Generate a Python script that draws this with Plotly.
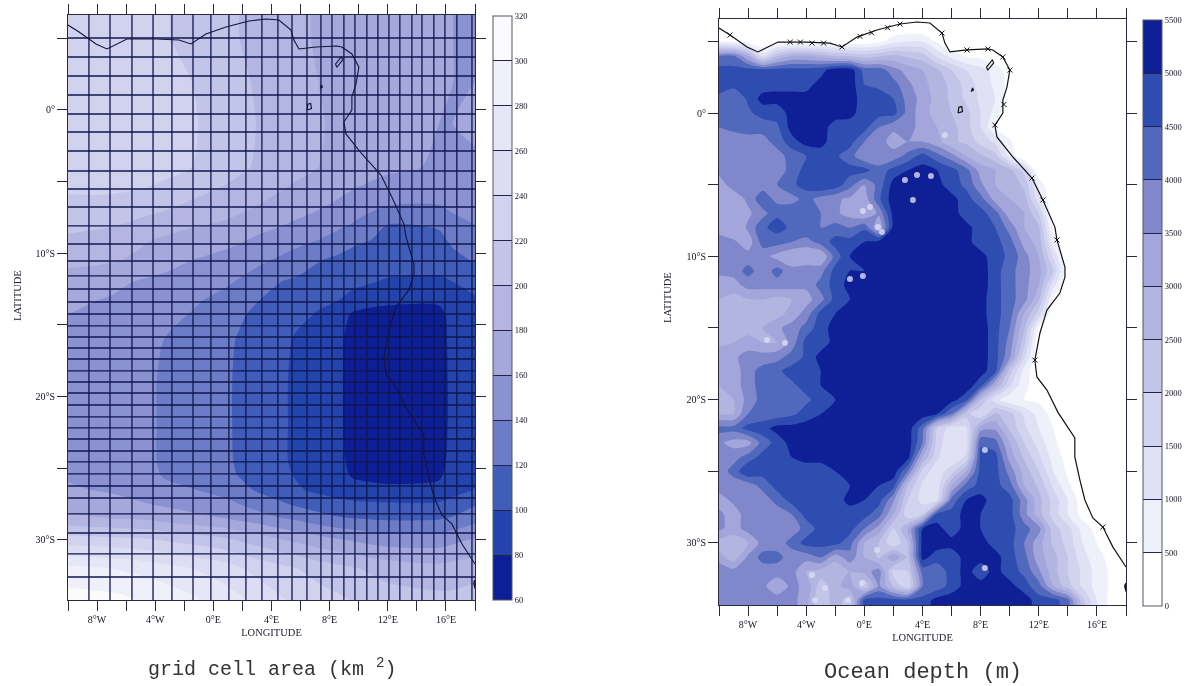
import plotly.graph_objects as go

# ---------- page geometry: pixels of the reference; the drawing surface runs a little past the
# 1192 px window so that the right colour bar's labels fit without the plot area being shrunk ----------
W, H = 1216, 686

# ---------- left panel: grid cell area (km2) ----------
area_lons = [-10, -7, -4.4, -3.4, -1.5, 0.8, 1.8, 3.3, 4.8, 5.8, 7.2, 8.6, 9.6, 12, 15.5, 16.5, 18]
area_lats = [8, 5, 2, -1, -4, -6.5, -7.5, -9, -10.5, -12, -13.3, -14.3, -16, -19, -22, -24.5, -25.5,
             -26.5, -27.5, -28.5, -30, -32, -34, -36]
area_values = [
    [224, 228, 226, 222, 214, 206, 200, 194, 188, 184, 178, 172, 170, 166, 162, 160, 160],
    [224, 228, 226, 222, 214, 206, 200, 194, 188, 184, 178, 172, 170, 166, 162, 160, 160],
    [226, 232, 232, 228, 220, 210, 204, 196, 190, 186, 180, 174, 172, 168, 162, 160, 160],
    [228, 234, 234, 230, 222, 212, 206, 198, 192, 188, 182, 176, 172, 166, 160, 160, 162],
    [226, 232, 232, 228, 220, 210, 204, 196, 190, 186, 180, 174, 170, 164, 158, 158, 158],
    [218, 216, 210, 206, 198, 190, 186, 180, 174, 170, 164, 158, 154, 144, 142, 148, 154],
    [212, 208, 198, 195, 188, 182, 178, 172, 166, 161, 156, 150, 145, 122, 124, 137, 145],
    [196, 190, 181, 178, 172, 166, 163, 156, 150, 146, 141, 133, 125, 116, 117, 123, 130],
    [186, 182, 174, 170, 160, 154, 150, 143, 136, 131, 121, 115, 112, 108, 110, 116, 121],
    [170, 165, 156, 153, 148, 143, 138, 128, 119, 116, 112, 107, 104, 98, 96, 100, 105],
    [164, 158, 150, 148, 143, 134, 130, 119, 110, 106, 102, 100, 94, 85, 83, 90, 98],
    [160, 155, 148, 145, 139, 128, 123, 113, 106, 103, 99, 92, 76, 70, 74, 87, 95],
    [158, 153, 146, 140, 133, 125, 118, 108, 103, 98, 91, 84, 74, 67, 72, 86, 93],
    [156, 152, 145, 135, 128, 124, 116, 106, 102, 96, 88, 83, 74, 66, 72, 85, 92],
    [156, 152, 145, 135, 128, 124, 116, 106, 102, 96, 88, 83, 74, 66, 72, 85, 92],
    [156, 152, 145, 135, 128, 124, 117, 107, 102, 96, 89, 84, 76, 70, 74, 86, 93],
    [158, 154, 147, 138, 130, 125, 119, 109, 104, 98, 92, 86, 78, 74, 77, 88, 95],
    [162, 158, 152, 147, 141, 132, 126, 116, 108, 102, 96, 91, 87, 84, 85, 92, 101],
    [172, 166, 160, 157, 152, 146, 140, 130, 122, 116, 110, 106, 104, 102, 102, 108, 118],
    [184, 180, 176, 172, 166, 160, 155, 148, 140, 136, 128, 122, 120, 117, 118, 122, 132],
    [230, 226, 222, 218, 212, 204, 198, 190, 180, 175, 168, 162, 158, 150, 150, 155, 162],
    [285, 280, 272, 268, 260, 250, 242, 232, 225, 220, 212, 206, 202, 192, 186, 188, 192],
    [308, 304, 296, 292, 282, 268, 262, 250, 240, 236, 228, 222, 218, 208, 204, 204, 208],
    [316, 312, 306, 302, 292, 278, 272, 260, 250, 246, 238, 232, 228, 218, 214, 214, 218],
]
area_levels = [60, 320, 20]
area_colors = ["#0d1f96", "#2344ac", "#3f5db9", "#6d7cc6", "#8b92d1", "#a4a8db", "#b4b6e1",
               "#c3c5e8", "#d1d2ee", "#dcdcf2", "#e5e6f6", "#eff0fa", "#fbfbfe"]
area_ticks = [60, 80, 100, 120, 140, 160, 180, 200, 220, 240, 260, 280, 300, 320]

# model grid lines of the left panel
grid_lons = [-8.56, -7.11, -5.6, -4.15, -2.85, -1.40, -0.17, 1.07, 2.24, 3.34, 4.44, 5.41, 6.44, 7.40,
             8.16, 8.98, 9.74, 10.56, 11.32, 12.08, 12.83, 13.66, 14.35, 15.17, 15.93, 16.75, 17.79]
grid_lats = [5.02, 3.70, 2.37, 1.05, -0.28, -1.54, -2.86, -4.26, -5.51, -6.77, -8.09, -9.35, -10.54,
             -11.58, -12.49, -13.40, -14.24, -15.07, -15.84, -16.61, -17.38, -18.21, -18.98, -19.75,
             -20.59, -21.42, -22.19, -22.96, -23.80, -24.56, -25.40, -26.24, -27.08, -28.19, -29.52,
             -30.98, -32.59]

# ---------- right panel: ocean depth, hundreds of metres ----------
depth_lons = list(range(-10, 19))
depth_lats = list(range(7, -36, -1))
depth_hundreds = [
    [0]*29,
    [0]*29,
    [5, 4, 2, 0, 0, 0, 0, 0, 0, 0, 1, 3, 8, 10, 10, 4, 0, 0, 0, 0, 0, 0, 0, 0, 0, 0, 0, 0, 0],
    [40, 40, 30, 12, 24, 30, 30, 28, 24, 24, 22, 24, 26, 24, 22, 14, 8, 4, 3, 0, 0, 0, 0, 0, 0, 0, 0, 0, 0],
    [47, 47, 47, 47, 47, 47, 47, 48, 53, 53, 43, 43, 37, 33, 30, 26, 20, 15, 12, 8, 2, 0, 0, 0, 0, 0, 0, 0, 0],
    [47, 47, 47, 47, 48, 48, 48, 52, 53, 53, 45, 44, 42, 36, 32, 27, 24, 18, 13, 9, 3, 0, 0, 0, 0, 0, 0, 0, 0],
    [44, 40, 46, 52, 52, 52, 52, 53, 53, 53, 47, 47, 45, 38, 33, 28, 24, 19, 14, 10, 1, 0, 0, 0, 0, 0, 0, 0, 0],
    [42, 40, 44, 47, 47, 52, 53, 53, 53, 52, 47, 47, 47, 38, 32, 28, 25, 22, 15, 8, 0, 0, 0, 0, 0, 0, 0, 0, 0],
    [40, 41, 42, 42, 44, 52, 53, 53, 47, 47, 47, 40, 36, 36, 34, 30, 27, 22, 15, 5, 0, 0, 0, 0, 0, 0, 0, 0, 0],
    [38, 38, 38, 38, 42, 48, 52, 52, 47, 47, 40, 37, 33, 35, 35, 32, 26, 24, 18, 14, 6, 0, 0, 0, 0, 0, 0, 0, 0],
    [36, 35, 35, 36, 38, 42, 45, 47, 46, 42, 36, 36, 37, 42, 47, 42, 37, 30, 26, 22, 8, 0, 0, 0, 0, 0, 0, 0, 0],
    [36, 37, 37, 37, 37, 42, 47, 47, 47, 47, 47, 42, 47, 50, 52, 50, 47, 42, 33, 30, 27, 18, 0, 0, 0, 0, 0, 0, 0],
    [33, 37, 37, 37, 40, 44, 47, 50, 48, 42, 35, 42, 52, 52, 52, 52, 47, 44, 36, 30, 28, 24, 8, 0, 0, 0, 0, 0, 0],
    [32, 32, 36, 44, 38, 38, 42, 38, 36, 34, 32, 44, 53, 53, 53, 53, 52, 47, 42, 33, 30, 27, 12, 0, 0, 0, 0, 0, 0],
    [32, 30, 34, 38, 44, 44, 42, 40, 36, 33, 30, 36, 52, 53, 53, 53, 53, 47, 47, 42, 32, 30, 20, 0, 0, 0, 0, 0, 0],
    [34, 30, 36, 44, 47, 44, 44, 40, 42, 40, 44, 30, 52, 53, 53, 53, 53, 52, 47, 45, 38, 30, 26, 3, 0, 0, 0, 0, 0],
    [36, 36, 32, 42, 42, 40, 38, 42, 47, 47, 50, 52, 53, 53, 53, 53, 53, 52, 47, 47, 42, 33, 28, 8, 0, 0, 0, 0, 0],
    [38, 38, 37, 37, 33, 30, 30, 30, 42, 50, 52, 52, 53, 53, 53, 53, 53, 53, 52, 47, 44, 37, 30, 14, 0, 0, 0, 0, 0],
    [36, 37, 42, 37, 42, 37, 38, 38, 47, 50, 50, 52, 53, 53, 53, 53, 53, 53, 53, 47, 42, 37, 32, 20, 0, 0, 0, 0, 0],
    [33, 33, 37, 37, 38, 37, 36, 42, 47, 52, 52, 53, 53, 53, 53, 53, 53, 53, 53, 47, 42, 37, 30, 12, 0, 0, 0, 0, 0],
    [30, 28, 30, 30, 28, 30, 33, 38, 47, 50, 52, 53, 53, 53, 53, 53, 53, 53, 52, 47, 42, 37, 26, 3, 0, 0, 0, 0, 0],
    [30, 28, 26, 28, 28, 32, 37, 47, 50, 53, 53, 53, 53, 53, 53, 53, 53, 53, 52, 47, 42, 30, 18, 0, 0, 0, 0, 0, 0],
    [30, 30, 28, 30, 34, 37, 42, 48, 52, 53, 53, 53, 53, 53, 53, 53, 53, 53, 53, 47, 40, 26, 4, 0, 0, 0, 0, 0, 0],
    [28, 30, 32, 30, 30, 37, 47, 47, 52, 53, 53, 53, 53, 53, 53, 53, 53, 53, 53, 47, 38, 22, 0, 0, 0, 0, 0, 0, 0],
    [34, 34, 37, 37, 38, 42, 46, 52, 52, 53, 53, 53, 53, 53, 53, 53, 53, 53, 53, 47, 36, 16, 0, 0, 0, 0, 0, 0, 0],
    [30, 32, 38, 42, 44, 47, 50, 50, 52, 52, 53, 53, 53, 53, 53, 53, 53, 53, 52, 47, 22, 8, 0, 0, 0, 0, 0, 0, 0],
    [30, 32, 38, 42, 42, 44, 47, 50, 52, 53, 52, 53, 53, 53, 53, 53, 53, 53, 47, 30, 16, 6, 3, 0, 0, 0, 0, 0, 0],
    [30, 30, 37, 42, 42, 42, 44, 47, 50, 53, 53, 53, 53, 53, 53, 53, 52, 47, 25, 12, 6, 5, 4, 0, 0, 0, 0, 0, 0],
    [30, 30, 40, 42, 42, 44, 47, 50, 53, 53, 53, 53, 53, 53, 53, 50, 40, 22, 15, 26, 22, 14, 8, 3, 0, 0, 0, 0, 0],
    [42, 42, 47, 48, 52, 52, 53, 53, 53, 53, 53, 53, 53, 53, 42, 20, 12, 14, 33, 34, 24, 16, 10, 5, 1, 0, 0, 0, 0],
    [36, 33, 33, 42, 47, 52, 52, 53, 53, 53, 53, 53, 53, 53, 40, 18, 10, 12, 44, 42, 30, 20, 13, 6, 2, 0, 0, 0, 0],
    [38, 38, 42, 47, 50, 50, 52, 52, 53, 53, 53, 53, 53, 52, 30, 16, 10, 16, 47, 47, 33, 24, 16, 8, 3, 0, 0, 0, 0],
    [37, 42, 50, 47, 47, 47, 47, 47, 50, 52, 53, 52, 53, 40, 18, 12, 18, 30, 47, 47, 38, 28, 20, 10, 4, 0, 0, 0, 0],
    [37, 37, 37, 42, 47, 47, 47, 47, 47, 50, 53, 50, 47, 25, 14, 12, 30, 42, 47, 47, 42, 30, 24, 14, 6, 1, 0, 0, 0],
    [33, 36, 37, 37, 42, 47, 47, 47, 47, 52, 50, 47, 36, 20, 13, 14, 42, 50, 52, 47, 47, 37, 27, 18, 10, 2, 0, 0, 0],
    [36, 33, 37, 37, 37, 40, 47, 47, 47, 47, 47, 42, 30, 16, 20, 47, 47, 52, 50, 47, 47, 37, 27, 18, 10, 3, 0, 0, 0],
    [36, 33, 37, 37, 37, 37, 42, 47, 47, 47, 40, 33, 20, 30, 50, 52, 47, 52, 50, 47, 47, 42, 37, 22, 17, 8, 3, 0, 0],
    [28, 26, 30, 37, 37, 42, 47, 47, 47, 42, 30, 25, 15, 25, 52, 53, 52, 53, 52, 48, 47, 40, 32, 24, 18, 10, 5, 2, 0],
    [32, 27, 36, 42, 42, 37, 37, 40, 32, 38, 30, 24, 35, 24, 52, 47, 47, 52, 52, 52, 47, 42, 32, 27, 20, 12, 7, 3, 0],
    [40, 37, 37, 37, 37, 37, 30, 28, 26, 30, 32, 38, 18, 20, 42, 42, 47, 52, 47, 52, 47, 44, 36, 27, 20, 14, 8, 4, 1],
    [37, 37, 37, 36, 32, 36, 34, 22, 28, 33, 20, 36, 24, 16, 40, 42, 47, 52, 52, 52, 52, 47, 42, 30, 22, 14, 8, 4, 2],
    [37, 37, 37, 37, 37, 37, 32, 20, 28, 22, 47, 47, 47, 47, 47, 52, 53, 53, 53, 53, 53, 53, 47, 47, 42, 22, 10, 3, 2],
    [37, 37, 37, 37, 37, 37, 32, 20, 28, 22, 47, 47, 47, 47, 47, 52, 53, 53, 53, 53, 53, 53, 47, 47, 42, 22, 10, 3, 2],
]
assert all(len(r) == 29 for r in depth_hundreds) and len(depth_hundreds) == 43
depth_levels = [0, 5500, 500]
depth_colors = ["#ffffff", "#eef0fa", "#e0e1f5", "#d2d3ef", "#c3c5e8", "#b3b5e1", "#a2a6da",
                "#8088cb", "#5069bd", "#2f4db0", "#0f2096"]
depth_ticks = [0, 500, 1000, 1500, 2000, 2500, 3000, 3500, 4000, 4500, 5000, 5500]

# isolated seamounts, lighter than their surroundings
seamount_lon = [-0.99, -0.10, 0.94, 1.21, -0.1, 0.39, 2.79, 3.62, 4.58, 3.34, 5.54, -6.70, -5.46, 8.29, 8.29,
                -3.60, -2.71, -0.16, 0.87, -3.4, -1.13]
seamount_lat = [-11.58, -11.37, -7.96, -8.30, -6.84, -6.56, -4.68, -4.33, -4.40, -6.07, -1.54, -15.84, -16.05,
                -23.52, -31.75, -32.24, -33.15, -32.8, -30.5, -34.0, -34.0]

# ---------- coastline, shared ----------
coast_lon = [-10, -9.24, -8.07, -7.32, -5.94, -3.95, -2.37, -1.54, -0.51, 0.87, 2.45, 3.62, 4.51, 5.34, 5.54, 5.89,
             7.06, 8.50, 8.84, 9.53, 10.01, 9.81, 9.53, 9.53, 8.98, 9.12, 10.22, 11.53, 12.28, 13.11, 13.25, 13.80,
             13.80, 13.45, 12.56, 12.08, 11.73, 11.87, 12.56, 13.31, 14.48, 14.48, 14.83, 15.17, 15.72, 16.41,
             17.10, 18.0]
coast_lat = [5.93, 5.44, 4.61, 4.26, 4.95, 4.95, 4.88, 4.61, 5.30, 5.79, 6.21, 6.35, 6.28, 5.58, 4.88, 4.26,
             4.40, 4.47, 4.40, 3.91, 3.0, 1.81, 0.91, 0, -0.84, -1.67, -3.07, -4.54, -6.07, -7.96, -8.86, -10.75,
             -11.45, -12.56, -13.75, -15.35, -17.24, -18.42, -19.33, -20.87, -22.68, -24.0, -25.61, -27.0, -28.26,
             -28.89, -30.29, -31.68]
island_lon = [[8.4, 8.8, 8.9, 8.5, 8.4], [7.35, 7.5, 7.45, 7.35], [6.45, 6.75, 6.7, 6.5, 6.45], [17.9, 18.0, 18.0, 17.9]]
island_lat = [[3.2, 3.7, 3.5, 3.0, 3.2], [1.5, 1.6, 1.75, 1.5], [0.0, 0.1, 0.45, 0.4, 0.0], [-33.0, -32.8, -33.4, -33.0]]
# river mouths / inlets marked along the right panel's coast
mark_lon = [-9.24, -5.1, -4.4, -3.6, -2.8, -1.54, -0.3, 0.5, 1.6, 2.45, 5.34, 7.06, 8.5, 9.53, 10.01, 9.6, 8.98, 11.53,
            12.28, 13.25, 11.73, 16.41]
mark_lat = [5.44, 4.95, 4.95, 4.88, 4.88, 4.61, 5.35, 5.6, 5.95, 6.21, 5.58, 4.40, 4.47, 3.91, 3.0, 0.6, -0.84, -4.54,
            -6.07, -8.86, -17.24, -28.89]

# ---------- axis ticks ----------
lon_ticks = [-8, -4, 0, 4, 8, 12, 16]
lon_labels = ["8°W", "4°W", "0°E", "4°E", "8°E", "12°E", "16°E"]
lon_minor = [-10, -6, -2, 2, 6, 10, 14, 18]
lat_ticks = [0, -10, -20, -30]
lat_labels = ["0°", "10°S", "20°S", "30°S"]
lat_minor = [5, -5, -15, -25]

TICK_FONT = dict(family="Liberation Serif", size=10, color="#111122")
LINE = "#2a2a3a"
LABEL_FONT = dict(family="Liberation Serif", size=10.5, color="#222233")


def stepped(colors):
    n = len(colors)
    out = []
    for i, c in enumerate(colors):
        out += [[i / n, c], [(i + 1) / n, c]]
    return out


def segments(values, lo, hi):
    a, b = [], []
    for v in values:
        a += [v, v, None]
        b += [lo, hi, None]
    return a, b


def islands_xy():
    x, y = [], []
    for lo, la in zip(island_lon, island_lat):
        x += lo + [None]
        y += la + [None]
    return x, y


fig = go.Figure()


def add_field(x, y, z, levels, colors, ticks, xa, ya, bar_left, bar_top, bar_bottom):
    fig.add_trace(go.Contour(
        x=x, y=y, z=z, xaxis=xa, yaxis=ya, colorscale=stepped(colors),
        zmin=levels[0], zmax=levels[1], autocontour=False,
        contours=dict(start=levels[0], end=levels[1], size=levels[2], coloring="fill", showlines=False),
        line=dict(width=0, smoothing=0.7), hoverinfo="skip",
        colorbar=dict(
            x=bar_left / W, xanchor="left", xpad=0, thickness=19, thicknessmode="pixels",
            y=1 - bar_bottom / H, yanchor="bottom", ypad=0,
            len=(bar_bottom - bar_top) / H, lenmode="fraction",
            outlinecolor="#555566", outlinewidth=1, tickmode="array", tickvals=ticks,
            ticks="inside", ticklen=19, tickwidth=1, tickcolor="#23234a",
            tickfont=dict(family="Liberation Serif", size=8.5, color="#111122"),
        ),
    ))


add_field(area_lons, area_lats, area_values, area_levels, area_colors, area_ticks, "x", "y", 493, 16, 600)
depth_metres = [[v * 100 for v in r] for r in depth_hundreds]
add_field(depth_lons, depth_lats, depth_metres, depth_levels, depth_colors, depth_ticks, "x2", "y2", 1143, 20, 606)

# left panel overlays
gx, gy = segments(grid_lons, -34.3, 6.7)
fig.add_trace(go.Scatter(x=gx, y=gy, mode="lines", xaxis="x", yaxis="y", hoverinfo="skip", showlegend=False,
                         line=dict(color="#10164f", width=1.3)))
gy2, gx2 = segments(grid_lats, -10, 18)
fig.add_trace(go.Scatter(x=gx2, y=gy2, mode="lines", xaxis="x", yaxis="y", hoverinfo="skip", showlegend=False,
                         line=dict(color="#10164f", width=1.4)))
ix, iy = islands_xy()
for xa, ya, w in (("x", "y", 1.1), ("x2", "y2", 1.2)):
    fig.add_trace(go.Scatter(x=coast_lon, y=coast_lat, mode="lines", xaxis=xa, yaxis=ya, hoverinfo="skip",
                             showlegend=False, line=dict(color="#14143c" if xa == "x" else "#111111", width=w)))
    fig.add_trace(go.Scatter(x=ix, y=iy, mode="lines", xaxis=xa, yaxis=ya, hoverinfo="skip",
                             showlegend=False, line=dict(color="#14143c" if xa == "x" else "#111111", width=w)))

# right panel overlays
fig.add_trace(go.Scatter(x=seamount_lon, y=seamount_lat, mode="markers", xaxis="x2", yaxis="y2", hoverinfo="skip",
                         showlegend=False, marker=dict(color="#dcdcf4", size=6, opacity=0.8, line=dict(width=0))))
fig.add_trace(go.Scatter(x=mark_lon, y=mark_lat, mode="markers", xaxis="x2", yaxis="y2", hoverinfo="skip",
                         showlegend=False, marker=dict(symbol="x-thin", size=5, color="#111111",
                                                       line=dict(color="#111111", width=1))))


def x_axis(left, right, anchor):
    return dict(domain=[left / W, right / W], range=[-10, 18], anchor=anchor, tickmode="array",
                tickvals=lon_ticks, ticktext=lon_labels,
                ticks="outside", ticklen=10, tickwidth=1, tickcolor=LINE, tickfont=TICK_FONT,
                minor=dict(tickmode="array", tickvals=lon_minor, ticks="outside", ticklen=10, tickwidth=1,
                           tickcolor=LINE, showgrid=False),
                showline=True, linecolor=LINE, linewidth=1, mirror="ticks", showgrid=False, zeroline=False,
                tickangle=0, title=dict(text="LONGITUDE", standoff=4, font=LABEL_FONT))


def y_axis(top, bottom, lat_top, lat_bottom, anchor):
    return dict(domain=[1 - bottom / H, 1 - top / H], range=[lat_bottom, lat_top], anchor=anchor, tickmode="array",
                tickvals=lat_ticks, ticktext=lat_labels,
                ticks="outside", ticklen=10, tickwidth=1, tickcolor=LINE, tickfont=TICK_FONT,
                minor=dict(tickmode="array", tickvals=lat_minor, ticks="outside", ticklen=10, tickwidth=1,
                           tickcolor=LINE, showgrid=False),
                showline=True, linecolor=LINE, linewidth=1, mirror="ticks", showgrid=False, zeroline=False)


def note(text, px, py, font, angle=0):
    return dict(text=text, x=px / W, y=1 - py / H, xref="paper", yref="paper", showarrow=False,
                xanchor="center", yanchor="middle", textangle=angle, font=font)


fig.update_layout(
    width=W, height=H, margin=dict(l=0, r=0, t=0, b=0), showlegend=False,
    paper_bgcolor="white", plot_bgcolor="white",
    xaxis=x_axis(68, 475, "y"), yaxis=y_axis(15, 600, 6.63, -34.2, "x"),
    xaxis2=x_axis(719, 1126, "y2"), yaxis2=y_axis(19, 605, 6.56, -34.33, "x2"),
    annotations=[
        note("LATITUDE", 17, 296, LABEL_FONT, -90),
        note("LATITUDE", 667, 298, LABEL_FONT, -90),
        note("grid cell area (km <sup>2</sup>)", 272, 668, dict(family="Liberation Mono", size=20, color="#333333")),
        note("Ocean depth (m)", 923, 672, dict(family="Liberation Mono", size=22, color="#333333")),
    ],
)

fig.write_html(
    "out.html",
    config=dict(displayModeBar=False),
    post_script=("document.body.style.margin='0';"
                 "document.documentElement.style.overflow='hidden';"
                 "document.getElementById('{plot_id}').style.filter='blur(0.5px)';"),
)
